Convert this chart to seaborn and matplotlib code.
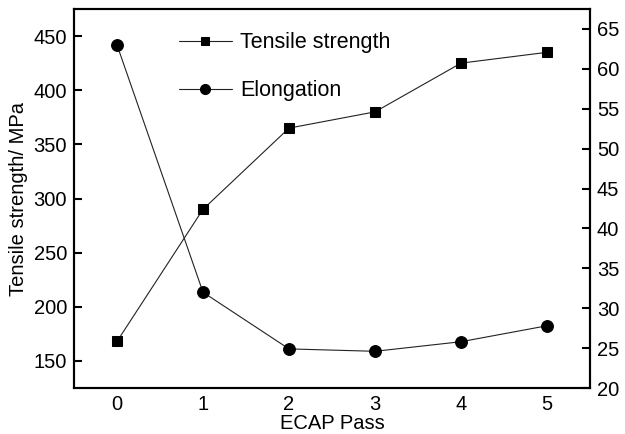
import matplotlib
matplotlib.use("Agg")
import matplotlib.pyplot as plt
import seaborn as sns
import pandas as pd

sns.set_theme(style="white")
plt.rcParams['font.family'] = ['Liberation Sans', 'DejaVu Sans']
plt.rcParams['text.color'] = 'black'

passes = [0, 1, 2, 3, 4, 5]
tensile = [168, 290, 365, 380, 425, 435]
elongation = [63.0, 32.0, 24.9, 24.6, 25.8, 27.8]
x_ticks = [0, 1, 2, 3, 4, 5]
left_ticks = [150, 200, 250, 300, 350, 400, 450]
right_ticks = [20, 25, 30, 35, 40, 45, 50, 55, 60, 65]

df = pd.DataFrame({"pass": passes, "tensile": tensile, "elong": elongation})

fig = plt.figure(figsize=(6.25, 4.34), dpi=100)
ax = fig.add_axes([74/625, 1 - 388/434, (590-74)/625, (388-9)/434])
ax2 = ax.twinx()

fs = 14.5
sns.lineplot(data=df, x="pass", y="tensile", ax=ax, color="#222222", marker="s",
             markersize=7.5, linewidth=0.8, markeredgecolor="black", markerfacecolor="black",
             label="Tensile strength", legend=False)
sns.lineplot(data=df, x="pass", y="elong", ax=ax2, color="#222222", marker="o",
             markersize=8.5, linewidth=0.8, markeredgecolor="black", markerfacecolor="black",
             label="Elongation", legend=False)

ax.set_xlim(-0.5, 5.5)
ax.set_ylim(125, 475)
ax2.set_ylim(20, 67.5)
ax.set_xticks(x_ticks)
ax.set_yticks(left_ticks)
ax2.set_yticks(right_ticks)

for a in (ax, ax2):
    for s in a.spines.values():
        s.set_linewidth(1.5)
        s.set_color("black")
    a.tick_params(direction="in", length=6, width=1.5, colors="black", labelsize=fs, pad=5)
ax.tick_params(axis="both", which="both", top=False, right=False)
ax2.tick_params(axis="y", left=False, right=True)

ax.set_xlabel("ECAP Pass", fontsize=fs, labelpad=0, color="black")
ax.set_ylabel("Tensile strength/ MPa", fontsize=fs, labelpad=4, color="black")
ax2.set_ylabel("")
ax.grid(False)
ax2.grid(False)

h1, l1 = ax.get_legend_handles_labels()
h2, l2 = ax2.get_legend_handles_labels()
leg = ax.legend(h1 + h2, l1 + l2, loc="upper left", bbox_to_anchor=(0.165, 0.99),
                frameon=False, fontsize=15.5, handlelength=2.5, labelspacing=1.25,
                handletextpad=0.35, markerscale=0.85)
for t in leg.get_texts():
    t.set_color("black")

fig.savefig("out.png", dpi=100)
